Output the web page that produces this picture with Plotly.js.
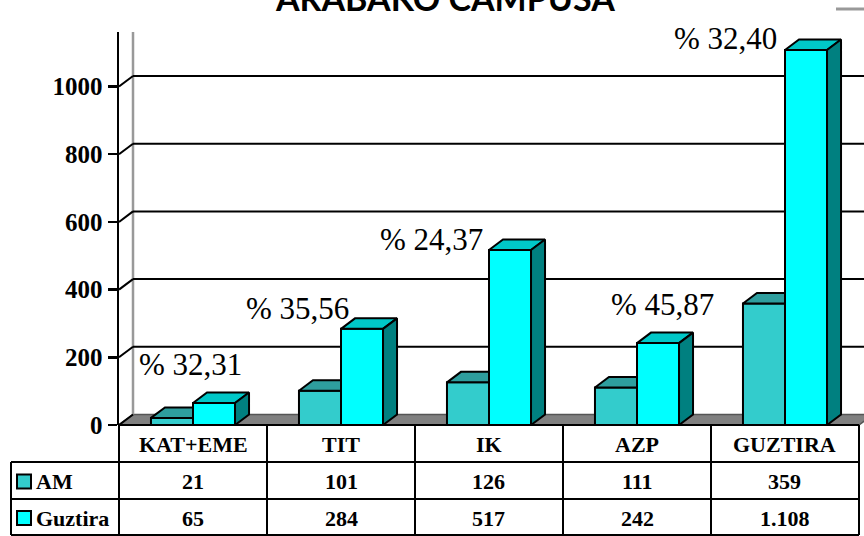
<!DOCTYPE html>
<html>
<head>
<meta charset="utf-8">
<script src="https://cdn.plot.ly/plotly-3.0.1.min.js"></script>
<style>html,body{margin:0;padding:0;background:#fff;}#chart{width:864px;height:536px;}</style>
</head>
<body>
<div id="chart"></div>
<script>
// ---- data ----
const categories = ['KAT+EME', 'TIT', 'IK', 'AZP', 'GUZTIRA'];
const seriesNames = ['AM', 'Guztira'];
const amValues = [21, 101, 126, 111, 359];
const guztiraValues = [65, 284, 517, 242, 1108];
const yTickValues = [0, 200, 400, 600, 800, 1000];
const chartTitle = 'ARABAKO CAMPUSA';

// ---- layout constants (pixels) ----
const W = 864, H = 536;
const mL = 119, mR = 0, mT = 32, mB = 111;
const catPx = 148;
const X0 = -0.5, X1 = categories.length - 0.5 + 5 / catPx;
const plotW = W - mL - mR, plotH = H - mT - mB;
const Y1 = 1161;
const pxPerY = plotH / Y1;
const dx = 14 / catPx;           // depth in x units
const dy = 10.5 / pxPerY;        // depth in y units
const bw = 0.284;                // bar width

const colAMFront = '#33CCCC', colAMTop = '#2E9E9E';
const colGFront = '#00FFFF', colGTop = '#00C8C8', colGSide = '#008080';

function px2paperX(p) { return (p - mL) / plotW; }
function px2paperY(p) { return (H - mB - p) / plotH; }
function d2paperX(d) { return (d - X0) / (X1 - X0); }
function fmt(v) { return String(v).replace(/\B(?=(\d{3})+(?!\d))/g, '.'); }

const xIdx = categories.map((c, i) => i);

// front faces
const traces = [
  {type: 'bar', name: seriesNames[0], x: xIdx, y: amValues, width: bw, offset: -bw,
   marker: {color: colAMFront, line: {color: '#000', width: 2}}, hoverinfo: 'skip'},
  {type: 'bar', name: seriesNames[1], x: xIdx, y: guztiraValues, width: bw, offset: 0,
   marker: {color: colGFront, line: {color: '#000', width: 2}}, hoverinfo: 'skip'}
];

// 3D faces
function poly(xsArr, ysArr, color) {
  return {type: 'scatter', mode: 'lines', x: xsArr, y: ysArr, fill: 'toself', fillcolor: color,
          line: {color: '#000', width: 2}, hoverinfo: 'skip', showlegend: false};
}
let gtx = [], gty = [], gsx = [], gsy = [], atx = [], aty = [];
xIdx.forEach((i) => {
  const g = guztiraValues[i], a = amValues[i];
  const gl = i, gr = i + bw;
  gtx.push(gl, gl + dx, gr + dx, gr, gl, null);
  gty.push(g, g + dy, g + dy, g, g, null);
  gsx.push(gr, gr + dx, gr + dx, gr, gr, null);
  gsy.push(0, dy, g + dy, g, 0, null);
  const al = i - bw, ar = i;
  atx.push(al, al + dx, ar, ar, al, null);
  aty.push(a, a + dy, a + dy, a, a, null);
});
traces.push(poly(atx, aty, colAMTop));
traces.push(poly(gtx, gty, colGTop));
traces.push(poly(gsx, gsy, colGSide));

// ---- shapes ----
const shapes = [];
// floor
shapes.push({type: 'path', xref: 'x', yref: 'y', layer: 'below',
  path: `M ${X0} 0 L ${X0 + dx} ${dy} L ${categories.length - 0.5 + dx} ${dy} L ${categories.length - 0.5} 0 Z`,
  fillcolor: '#808080', line: {color: '#555', width: 1.5}});
// back wall left edge
shapes.push({type: 'line', xref: 'x', yref: 'y', layer: 'below', x0: X0 + dx, x1: X0 + dx, y0: dy, y1: Y1,
  line: {color: '#999', width: 2.5}});
// gridlines on back wall + connectors
yTickValues.forEach((t) => {
  if (t > 0) {
    shapes.push({type: 'line', xref: 'x', yref: 'y', layer: 'below', x0: X0 + dx, x1: X1, y0: t + dy, y1: t + dy,
      line: {color: '#000', width: 2}});
  }
  shapes.push({type: 'line', xref: 'x', yref: 'y', layer: 'below', x0: X0, x1: X0 + dx, y0: t, y1: t + dy,
    line: {color: '#000', width: 2}});
});

// table
const rowPx = [425, 462, 499, 535];
const tableLeftPx = 11;
const tableRightData = categories.length - 0.5;
shapes.push({type: 'line', xref: 'paper', yref: 'paper', x0: 0, x1: d2paperX(tableRightData),
  y0: px2paperY(rowPx[0]), y1: px2paperY(rowPx[0]), line: {color: '#000', width: 2}});
for (let r = 1; r < rowPx.length; r++) {
  shapes.push({type: 'line', xref: 'paper', yref: 'paper', x0: px2paperX(tableLeftPx), x1: d2paperX(tableRightData),
    y0: px2paperY(rowPx[r]), y1: px2paperY(rowPx[r]), line: {color: '#000', width: 2}});
}
shapes.push({type: 'line', xref: 'paper', yref: 'paper', x0: px2paperX(tableLeftPx), x1: px2paperX(tableLeftPx),
  y0: px2paperY(rowPx[1]), y1: px2paperY(rowPx[3]), line: {color: '#000', width: 2}});
for (let i = 0; i <= categories.length; i++) {
  const xp = d2paperX(i - 0.5);
  shapes.push({type: 'line', xref: 'paper', yref: 'paper', x0: xp, x1: xp,
    y0: px2paperY(rowPx[0]), y1: px2paperY(rowPx[3]), line: {color: '#000', width: 2}});
}
// legend keys
[colAMFront, colGFront].forEach((c, r) => {
  const cy = (rowPx[r + 1] + rowPx[r + 2]) / 2 + 1;
  shapes.push({type: 'rect', xref: 'paper', yref: 'paper',
    x0: px2paperX(17), x1: px2paperX(31), y0: px2paperY(cy - 7), y1: px2paperY(cy + 7),
    fillcolor: c, line: {color: '#000', width: 2}});
});
// grey fragment top-right
shapes.push({type: 'line', xref: 'paper', yref: 'paper', x0: px2paperX(836), x1: px2paperX(866),
  y0: px2paperY(9), y1: px2paperY(9), line: {color: '#999', width: 3}});

// ---- annotations ----
const annotations = [];
const tFont = {family: 'Liberation Serif, Times New Roman, serif', size: 22, color: '#000', weight: 'bold'};
categories.forEach((c, i) => {
  const cx = d2paperX(i);
  annotations.push({xref: 'paper', yref: 'paper', x: cx, y: px2paperY((rowPx[0] + rowPx[1]) / 2 + 1),
    text: '<b>' + c + '</b>', showarrow: false, font: tFont, xanchor: 'center', yanchor: 'middle'});
  annotations.push({xref: 'paper', yref: 'paper', x: cx, y: px2paperY((rowPx[1] + rowPx[2]) / 2 + 1),
    text: '<b>' + fmt(amValues[i]) + '</b>', showarrow: false, font: tFont, xanchor: 'center', yanchor: 'middle'});
  annotations.push({xref: 'paper', yref: 'paper', x: cx, y: px2paperY((rowPx[2] + rowPx[3]) / 2 + 1),
    text: '<b>' + fmt(guztiraValues[i]) + '</b>', showarrow: false, font: tFont, xanchor: 'center', yanchor: 'middle'});
});
seriesNames.forEach((s, r) => {
  annotations.push({xref: 'paper', yref: 'paper', x: px2paperX(34), y: px2paperY((rowPx[r + 1] + rowPx[r + 2]) / 2 + 1),
    text: '<b>' + s + '</b>', showarrow: false, font: tFont, xanchor: 'left', yanchor: 'middle'});
});
// percentage labels (offsets in px from Guztira bar front top at category centre)
const labelShiftX = [-3, -44, -58, 25, -60];
const labelShiftY = [39, 20, 10, 39, 11];
categories.forEach((c, i) => {
  const pct = (amValues[i] / guztiraValues[i] * 100).toFixed(2).replace('.', ',');
  annotations.push({xref: 'x', yref: 'y', x: i, y: guztiraValues[i], xshift: labelShiftX[i], yshift: labelShiftY[i],
    text: '% ' + pct, showarrow: false, xanchor: 'center', yanchor: 'middle',
    font: {family: 'Liberation Serif, Times New Roman, serif', size: 31, color: '#000'}});
});
// title
annotations.push({xref: 'paper', yref: 'paper', x: px2paperX(445), y: px2paperY(20), xanchor: 'center', yanchor: 'bottom',
  text: '<b>' + chartTitle + '</b>', showarrow: false,
  font: {family: 'Lato, Open Sans, sans-serif', size: 34, color: '#000', weight: 'bold'}});

const layout = {
  width: W, height: H,
  margin: {l: mL, r: mR, t: mT, b: mB, pad: 0},
  paper_bgcolor: '#fff', plot_bgcolor: '#fff',
  showlegend: false,
  barmode: 'overlay',
  xaxis: {range: [X0, X1], visible: false, fixedrange: true},
  yaxis: {range: [0, Y1], showgrid: false, zeroline: false, showline: true, linecolor: '#000', linewidth: 2.5,
    ticks: 'outside', ticklen: 9, tickwidth: 2.5, tickcolor: '#000', tickvals: yTickValues,
    ticktext: yTickValues.map(v => '<b>' + v + '</b>'),
    tickfont: {family: 'Liberation Serif, Times New Roman, serif', size: 25, color: '#000'},
    fixedrange: true},
  shapes: shapes,
  annotations: annotations
};

Plotly.newPlot('chart', traces, layout, {staticPlot: true, displayModeBar: false});
</script>
</body>
</html>
